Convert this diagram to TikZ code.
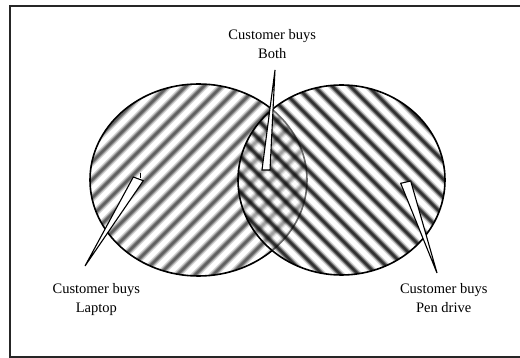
\documentclass[tikz,border=0pt]{standalone}
\usepackage{fontspec}
\setmainfont{Liberation Serif}
\begin{document}
\begin{tikzpicture}[x=1pt,y=-1pt,
  frame/.style={line width=1.7pt, black!85},
  rim/.style={line width=1.6pt, black},
  pointer/.style={draw=black, line width=1.1pt, fill=white, line join=miter},
  setlabel/.style={font=\fontsize{14.5}{19}\selectfont, align=center, inner sep=0pt, anchor=base},
  haze/.style={line width=7.6pt, black!16},
  band/.style={line width=5.2pt, black!38},
  core/.style={line width=2.8pt, black!62}]

\useasboundingbox (0,0) rectangle (520,358);

% open frame: left, top and bottom edges
\draw[frame] (520,6) -- (9.7,6) -- (9.7,356.8) -- (520,356.8);

\coordinate (cL) at (198.5,180);
\coordinate (cR) at (341.5,180);

% left set: bands rising to the right
\begin{scope}
  \clip (cL) ellipse [x radius=108.5, y radius=96];
  \foreach \c in {164,182,...,620} {
    \draw[haze] (\c,0) -- (\c-400,400);
    \draw[band] (\c,0) -- (\c-400,400);
    \draw[core] (\c,0) -- (\c-400,400);
  }
\end{scope}
\draw[rim] (cL) ellipse [x radius=108.5, y radius=96];

% right set: veil, then bands falling to the right
\fill[white, opacity=0.42] (cR) ellipse [x radius=103.5, y radius=95];
\begin{scope}[blend mode=multiply]
  \clip (cR) ellipse [x radius=103.5, y radius=95];
  \foreach \c in {-60,-42,...,390} {
    \draw[haze] (\c,0) -- (\c+400,400);
    \draw[band] (\c,0) -- (\c+400,400);
    \draw[core] (\c,0) -- (\c+400,400);
  }
\end{scope}
\draw[rim] (cR) ellipse [x radius=103.5, y radius=95];

% callout pointers
\coordinate (tipLaptop) at (85,266);
\coordinate (baseLaptopA) at (133.3,177);
\coordinate (baseLaptopB) at (143.3,180.7);
\coordinate (tickLaptopA) at (140.8,172.6);
\coordinate (tickLaptopB) at (140.8,178.2);
\coordinate (tipBoth) at (275,70);
\coordinate (baseBothA) at (262,170);
\coordinate (baseBothB) at (270,170);
\coordinate (tipPen) at (437,273);
\coordinate (basePenA) at (400.7,183.3);
\coordinate (basePenB) at (410.7,181);

\draw[pointer] (tipLaptop) -- (baseLaptopA) -- (baseLaptopB) -- cycle;
\draw[black, line width=1.1pt] (tickLaptopA) -- (tickLaptopB);
\draw[pointer] (tipBoth) -- (baseBothA) -- (baseBothB) -- cycle;
\draw[pointer] (tipPen) -- (basePenA) -- (basePenB) -- cycle;

% labels (anchored on the baseline of their last line)
\node[setlabel] (laptop) at (96.3,312.3) {Customer buys\\Laptop};
\node[setlabel] (both) at (272.2,58.7) {Customer buys\\Both};
\node[setlabel] (pendrive) at (443.7,312.3) {Customer buys\\Pen drive};
\end{tikzpicture}
\end{document}
